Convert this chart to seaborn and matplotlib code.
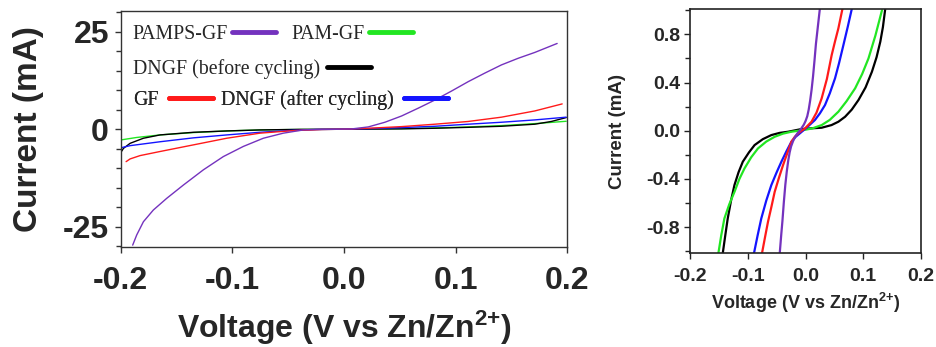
import numpy as np
import pandas as pd
import seaborn as sns
import matplotlib
matplotlib.use("Agg")
import matplotlib.pyplot as plt
from matplotlib.ticker import MultipleLocator, FixedLocator

# ---------------- data ----------------
series_names = ["PAMPS-GF", "PAM-GF", "DNGF (before cycling)", "GF", "DNGF (after cycling)"]
series_colors = ["#7432BE", "#22E622", "#000000", "#FF1A1A", "#1414FF"]

# main panel: voltage (V) / current (mA)
pamps_v = [-0.1893, -0.1857, -0.1797, -0.1708, -0.1588, -0.1439, -0.1260, -0.1081,
           -0.0902, -0.0723, -0.0544, -0.0365, -0.0245, -0.0081, 0.0068, 0.0217,
           0.0366, 0.0515, 0.0664, 0.0814, 0.0963, 0.1112, 0.1261, 0.1410, 0.1560,
           0.1709, 0.1909]
pamps_i = [-29.7, -27.1, -23.7, -20.7, -17.7, -14.3, -10.4, -7.0,
           -4.4, -2.3, -1.0, -0.17, 0.0, 0.0, 0.085, 0.6,
           1.8, 3.4, 5.4, 7.5, 9.8, 12.2, 14.4, 16.5, 18.2,
           19.7, 22.0]

pam_v = [-0.1991, -0.1857, -0.1648, -0.1349, -0.1051, -0.0753, -0.0400, 0.0,
         0.0515, 0.0814, 0.1112, 0.1410, 0.1709, 0.1990]
pam_i = [-2.7, -2.1, -1.45, -0.85, -0.43, -0.17, -0.05, 0.0,
         0.17, 0.34, 0.6, 0.94, 1.45, 2.05]

dngf_b_v = [-0.1991, -0.1976, -0.1916, -0.1797, -0.1648, -0.1349, -0.1051, -0.0753,
            -0.0400, 0.0, 0.0515, 0.0814, 0.1112, 0.1410, 0.1709, 0.1857, 0.1990]
dngf_b_i = [-5.6, -4.9, -3.6, -2.3, -1.45, -0.77, -0.43, -0.17,
            -0.03, 0.0, 0.1, 0.26, 0.5, 0.77, 1.3, 2.0, 3.0]

gf_v = [-0.1952, -0.1916, -0.1827, -0.1648, -0.1349, -0.1051, -0.0753, -0.0454,
        -0.0200, 0.0, 0.0217, 0.0515, 0.0814, 0.1112, 0.1410, 0.1709, 0.1954]
gf_i = [-8.3, -7.6, -6.75, -5.7, -4.0, -2.3, -1.0, -0.34,
        -0.06, 0.02, 0.26, 0.68, 1.3, 2.0, 3.1, 4.7, 6.5]

dngf_a_v = [-0.1991, -0.1916, -0.1648, -0.1349, -0.1051, -0.0753, -0.0454, -0.0200,
            0.0, 0.0217, 0.0515, 0.0814, 0.1112, 0.1410, 0.1709, 0.1990]
dngf_a_i = [-4.7, -4.2, -3.2, -2.2, -1.45, -0.77, -0.26, -0.05,
            0.02, 0.15, 0.43, 0.77, 1.3, 1.8, 2.4, 3.1]

# inset (zoom on +/-1 mA)
in_pamps_v = [-0.0447, -0.0420, -0.0400, -0.0375, -0.0350, -0.0325, -0.0300, -0.0275,
              -0.0250, -0.0215, -0.0180, -0.0140, -0.0100, -0.0065, -0.0030, 0.0000,
              0.0030, 0.0055, 0.0080, 0.0105, 0.0130, 0.0155, 0.0180, 0.0215, 0.0250]
in_pamps_i = [-1.02, -0.86, -0.75, -0.59, -0.45, -0.34, -0.25, -0.18,
              -0.13, -0.085, -0.05, -0.022, 0.0, 0.025, 0.05, 0.08,
              0.12, 0.175, 0.25, 0.34, 0.45, 0.58, 0.72, 0.87, 1.02]

in_pam_v = [-0.1510, -0.1460, -0.1405, -0.1320, -0.1230, -0.1145, -0.1057, -0.0940,
            -0.0824, -0.0680, -0.0534, -0.0390, -0.0244, -0.0040, 0.0120, 0.0280,
            0.0420, 0.0569, 0.0710, 0.0859, 0.0980, 0.1090, 0.1210, 0.1324]
in_pam_i = [-1.02, -0.87, -0.728, -0.61, -0.507, -0.40, -0.313, -0.22,
            -0.147, -0.09, -0.05, -0.024, -0.008, 0.005, 0.02, 0.047,
            0.09, 0.158, 0.245, 0.352, 0.47, 0.60, 0.79, 1.00]

in_dngf_b_v = [-0.1434, -0.1390, -0.1347, -0.1290, -0.1231, -0.1160, -0.1086, -0.0980,
               -0.0882, -0.0740, -0.0592, -0.0450, -0.0300, -0.0070, 0.0100, 0.0279,
               0.0450, 0.0570, 0.0685, 0.0800, 0.0917, 0.1040, 0.1150, 0.1230, 0.1295,
               0.1340, 0.1380]
in_dngf_b_i = [-1.02, -0.87, -0.728, -0.58, -0.451, -0.345, -0.257, -0.18,
               -0.119, -0.07, -0.036, -0.018, -0.008, 0.014, 0.02, 0.025,
               0.047, 0.075, 0.116, 0.175, 0.255, 0.36, 0.49, 0.61, 0.739,
               0.86, 1.01]

in_gf_v = [-0.0755, -0.0700, -0.0650, -0.0590, -0.0534, -0.0460, -0.0389, -0.0315,
           -0.0244, -0.0185, -0.0128, -0.0070, -0.0010, 0.0104, 0.0190, 0.0279,
           0.0370, 0.0453, 0.0510, 0.0569, 0.0639]
in_gf_i = [-1.02, -0.88, -0.756, -0.63, -0.507, -0.39, -0.285, -0.185,
           -0.091, -0.05, -0.022, 0.0, 0.019, 0.075, 0.15, 0.268,
           0.43, 0.628, 0.74, 0.85, 1.01]

in_dngf_a_v = [-0.0894, -0.0830, -0.0766, -0.0680, -0.0592, -0.0500, -0.0418, -0.0330,
               -0.0244, -0.0170, -0.0099, 0.0017, 0.0163, 0.0250, 0.0337, 0.0420,
               0.0511, 0.0580, 0.0656, 0.0730, 0.0801]
in_dngf_a_i = [-1.02, -0.87, -0.728, -0.58, -0.451, -0.345, -0.257, -0.17,
               -0.091, -0.05, -0.022, 0.025, 0.089, 0.145, 0.213, 0.31,
               0.435, 0.56, 0.711, 0.86, 1.01]

x_ticks = [-0.2, -0.1, 0.0, 0.1, 0.2]
main_y_ticks = [-25, 0, 25]
inset_y_ticks = [-0.8, -0.4, 0.0, 0.4, 0.8]

# ---------------- build tables ----------------
main_sets = {
    "PAMPS-GF": (pamps_v, pamps_i),
    "PAM-GF": (pam_v, pam_i),
    "DNGF (before cycling)": (dngf_b_v, dngf_b_i),
    "GF": (gf_v, gf_i),
    "DNGF (after cycling)": (dngf_a_v, dngf_a_i),
}
inset_sets = {
    "PAMPS-GF": (in_pamps_v, in_pamps_i),
    "PAM-GF": (in_pam_v, in_pam_i),
    "DNGF (before cycling)": (in_dngf_b_v, in_dngf_b_i),
    "GF": (in_gf_v, in_gf_i),
    "DNGF (after cycling)": (in_dngf_a_v, in_dngf_a_i),
}


def to_frame(sets):
    rows = []
    for name, (v, i) in sets.items():
        for a, b in zip(v, i):
            rows.append({"series": name, "V": a, "I": b})
    return pd.DataFrame(rows)


main_df = to_frame(main_sets)
inset_df = to_frame(inset_sets)
palette = dict(zip(series_names, series_colors))

# ---------------- style ----------------
sns.set_theme(style="ticks")
plt.rcParams["font.family"] = ["Liberation Sans", "DejaVu Sans"]
plt.rcParams["mathtext.fontset"] = "custom"
plt.rcParams["mathtext.rm"] = "Liberation Sans:bold"
plt.rcParams["mathtext.bf"] = "Liberation Sans:bold"
plt.rcParams["mathtext.it"] = "Liberation Sans:bold"
plt.rcParams["axes.edgecolor"] = "#333333"

fig = plt.figure(figsize=(9.36, 3.47), dpi=100)
fig.patch.set_facecolor("white")
ax1 = fig.add_axes([0.1290, 0.2891, 0.4771, 0.6801])
ax2 = fig.add_axes([0.7372, 0.2700, 0.2468, 0.7040])

main_order = ["PAM-GF", "DNGF (before cycling)", "DNGF (after cycling)", "GF", "PAMPS-GF"]
sns.lineplot(data=main_df, x="V", y="I", hue="series", hue_order=main_order,
             palette=palette, sort=False, estimator=None, legend=False,
             linewidth=1.0, ax=ax1)
inset_order = ["DNGF (before cycling)", "PAM-GF", "DNGF (after cycling)", "GF", "PAMPS-GF"]
sns.lineplot(data=inset_df, x="V", y="I", hue="series", hue_order=inset_order,
             palette=palette, sort=False, estimator=None, legend=False,
             linewidth=1.6, ax=ax2)

handles = dict(zip(main_order, ax1.get_lines()))

xlabel_text = r"Voltage (V vs Zn/Zn$^{2{+}}$)"

# ---------------- main axes cosmetics ----------------
ax1.set_xlim(-0.2, 0.2)
ax1.set_ylim(-30.1, 30.4)
ax1.xaxis.set_major_locator(FixedLocator(x_ticks))
ax1.set_xticklabels([f"{t:.1f}" for t in x_ticks])
ax1.yaxis.set_major_locator(FixedLocator(main_y_ticks))
ax1.set_yticklabels([f"{t:d}" for t in main_y_ticks])
ax1.yaxis.set_minor_locator(MultipleLocator(5))
ax1.tick_params(axis="both", which="major", direction="out", length=4.5, width=1.0,
                color="#333333", labelsize=23)
ax1.tick_params(axis="y", which="minor", direction="out", length=3.5, width=1.0, color="#333333")
ax1.tick_params(axis="x", which="major", pad=9.5)
ax1.tick_params(axis="y", which="major", pad=4)
for lab in ax1.get_xticklabels() + ax1.get_yticklabels():
    lab.set_fontweight("bold")
ax1.set_xlabel(xlabel_text, fontsize=23, fontweight="bold")
ax1.set_ylabel("Current (mA)", fontsize=24, fontweight="bold")
ax1.xaxis.set_label_coords(0.5, -0.262)
ax1.yaxis.set_label_coords(-0.1717, 0.5)
for sp in ax1.spines.values():
    sp.set_linewidth(1.0)
    sp.set_color("#333333")

# custom legend rows (text followed by line)
legend_font = {"family": "Liberation Serif", "size": 14.3}


def legend_row(names, y, pad, colspace):
    leg = ax1.legend([handles[n] for n in names], names, loc="center left",
                     bbox_to_anchor=(0.0269, y), ncol=len(names), frameon=False,
                     markerfirst=False, handlelength=2.2, handletextpad=pad,
                     columnspacing=colspace, borderpad=0, borderaxespad=0,
                     prop=legend_font)
    for h in leg.legend_handles:
        h.set_linewidth(3.5)
    ax1.add_artist(leg)
    return leg


legend_row(["PAMPS-GF", "PAM-GF"], 0.8987, 0.19, 0.82)
legend_row(["DNGF (before cycling)"], 0.753, 0.35, 0.5)
legend_row(["GF", "DNGF (after cycling)"], 0.6216, 0.55, 0.39)

# ---------------- inset cosmetics ----------------
ax2.set_xlim(-0.2, 0.2)
ax2.set_ylim(-1.017, 1.01)
ax2.xaxis.set_major_locator(FixedLocator(x_ticks))
ax2.set_xticklabels([f"{t:.1f}" for t in x_ticks])
ax2.yaxis.set_major_locator(FixedLocator(inset_y_ticks))
ax2.set_yticklabels([f"{t:.1f}" for t in inset_y_ticks])
ax2.yaxis.set_minor_locator(MultipleLocator(0.2))
ax2.tick_params(axis="both", which="major", direction="out", length=4.5, width=1.0,
                color="#222222", labelsize=14)
ax2.tick_params(axis="y", which="minor", direction="out", length=3.5, width=1.0, color="#222222")
ax2.tick_params(axis="x", which="major", pad=6.0)
ax2.tick_params(axis="y", which="major", pad=2.5)
for lab in ax2.get_xticklabels() + ax2.get_yticklabels():
    lab.set_fontweight("bold")
ax2.set_xlabel(xlabel_text, fontsize=13, fontweight="bold")
ax2.set_ylabel("Current (mA)", fontsize=13.5, fontweight="bold")
ax2.xaxis.set_label_coords(0.5, -0.152)
ax2.yaxis.set_label_coords(-0.275, 0.5)
for sp in ax2.spines.values():
    sp.set_linewidth(1.2)
    sp.set_color("#222222")

fig.savefig("out.png", dpi=100, facecolor="white")
